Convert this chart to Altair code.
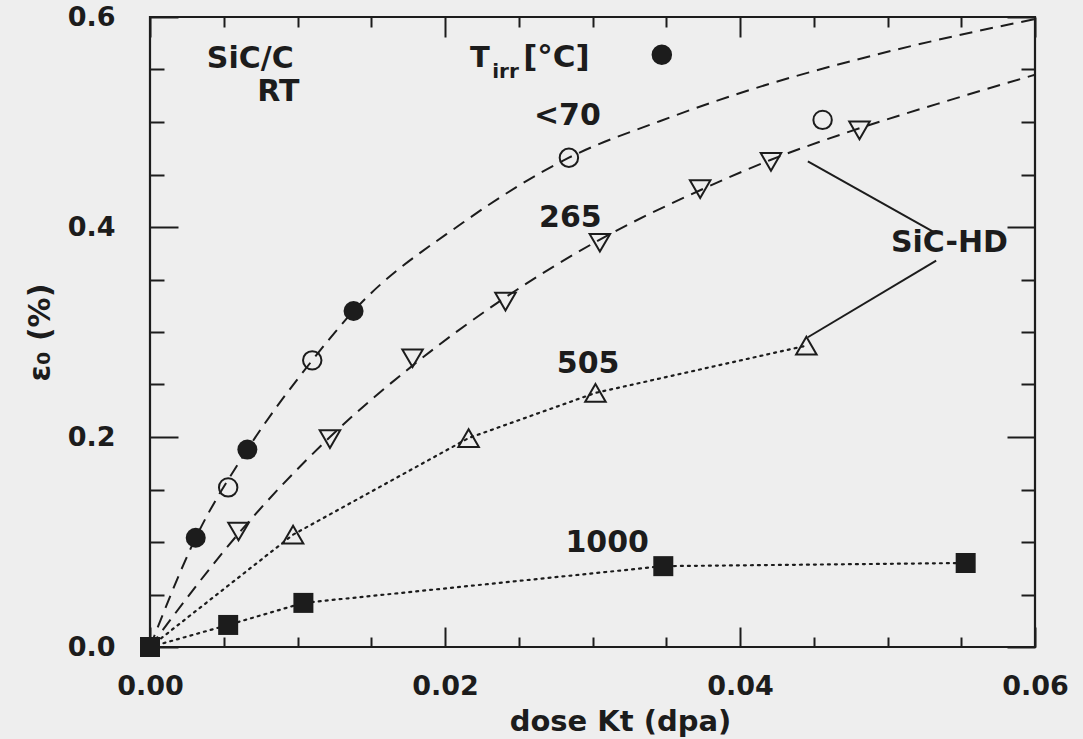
import altair as alt
import pandas as pd

INK = "#1c1c1c"
FONT = "DejaVu Sans"

# ---- measured points -------------------------------------------------------
# T_irr < 70 C, filled circles (SiC/C)
fc_x = [0.0, 0.0031, 0.0066, 0.0138]
fc_y = [0.0, 0.104, 0.188, 0.320]
# T_irr < 70 C, open circles (SiC-HD)
oc_x = [0.0053, 0.0110, 0.0284, 0.0456]
oc_y = [0.152, 0.273, 0.466, 0.502]
# T_irr = 265 C, down triangles
dt_x = [0.0060, 0.0122, 0.0178, 0.0241, 0.0305, 0.0373, 0.0421, 0.0481]
dt_y = [0.110, 0.198, 0.275, 0.329, 0.385, 0.436, 0.462, 0.492]
# T_irr = 505 C, up triangles
ut_x = [0.0, 0.0097, 0.0216, 0.0302, 0.0445]
ut_y = [0.0, 0.107, 0.199, 0.242, 0.287]
# T_irr = 1000 C, filled squares
sq_x = [0.0, 0.0053, 0.0104, 0.0348, 0.0553]
sq_y = [0.0, 0.021, 0.042, 0.077, 0.080]

# ---- fitted curves (dashed) ------------------------------------------------
fit70_x = [0.0, 0.0031, 0.0066, 0.0110, 0.0138, 0.0212, 0.0284, 0.0346, 0.0410, 0.0478, 0.0546, 0.0600]
fit70_y = [0.0, 0.104, 0.188, 0.273, 0.320, 0.404, 0.466, 0.501, 0.532, 0.559, 0.582, 0.598]
fit265_x = [0.0, 0.0060, 0.0122, 0.0178, 0.0241, 0.0305, 0.0373, 0.0421, 0.0481, 0.0545, 0.0600]
fit265_y = [0.0, 0.108, 0.200, 0.268, 0.333, 0.388, 0.435, 0.464, 0.494, 0.522, 0.545]

# ---- annotations -----------------------------------------------------------
ann_text = ["SiC/C", "RT", "<70", "265", "505", "1000", "SiC-HD"]
ann_x = [0.0068, 0.0087, 0.0283, 0.0285, 0.0297, 0.0310, 0.0542]
ann_y = [0.560, 0.529, 0.506, 0.409, 0.270, 0.099, 0.3845]

tirr_text = ["T", "irr", "[°C]"]
tirr_x = [0.0217, 0.0232, 0.02530]
tirr_y = [0.561, 0.548, 0.561]
tirr_size = [29, 20, 31]

key_x = [0.0347]
key_y = [0.564]

lead_x = [0.0446, 0.0446]
lead_y = [0.4625, 0.295]
lead_x2 = [0.0533, 0.0533]
lead_y2 = [0.394, 0.368]

# ---- axes ticks ------------------------------------------------------------
x_major = [0.0, 0.02, 0.04, 0.06]
x_minor = [0.005, 0.01, 0.015, 0.025, 0.03, 0.035, 0.045, 0.05, 0.055]
y_major = [0.0, 0.2, 0.4, 0.6]
y_minor = [0.05, 0.1, 0.15, 0.25, 0.3, 0.35, 0.45, 0.5, 0.55]

W, H = 885, 630

xs = alt.Scale(domain=[0, 0.06], nice=False, zero=False)
ys = alt.Scale(domain=[0, 0.6], nice=False, zero=False)


def df(**cols):
    return pd.DataFrame(cols)


def X(field="x", axis=None):
    return alt.X(f"{field}:Q", scale=xs, axis=axis)


def Y(field="y", axis=None):
    return alt.Y(f"{field}:Q", scale=ys, axis=axis)


layers = []

# dashed fits
for fx, fy in [(fit70_x, fit70_y), (fit265_x, fit265_y)]:
    layers.append(
        alt.Chart(df(x=fx, y=fy)).mark_line(
            color=INK, strokeWidth=2, strokeDash=[13, 8], interpolate="monotone"
        ).encode(x=X(), y=Y(), order="x:Q")
    )

# dotted connections
for px, py in [(ut_x, ut_y), (sq_x, sq_y)]:
    layers.append(
        alt.Chart(df(x=px, y=py)).mark_line(
            color=INK, strokeWidth=2.2, strokeDash=[2, 5], strokeCap="round"
        ).encode(x=X(), y=Y(), order="x:Q")
    )

# leader lines to the SiC-HD label
layers.append(
    alt.Chart(df(x=lead_x, y=lead_y, x2=lead_x2, y2=lead_y2)).mark_rule(
        color=INK, strokeWidth=2
    ).encode(x=X(), y=Y(), x2="x2:Q", y2="y2:Q")
)

# markers
layers.append(
    alt.Chart(df(x=fc_x, y=fc_y)).mark_point(
        shape="circle", filled=True, color=INK, size=400, opacity=1
    ).encode(x=X(), y=Y())
)
layers.append(
    alt.Chart(df(x=key_x, y=key_y)).mark_point(
        shape="circle", filled=True, color=INK, size=420, opacity=1
    ).encode(x=X(), y=Y())
)
layers.append(
    alt.Chart(df(x=oc_x, y=oc_y)).mark_point(
        shape="circle", filled=False, color=INK, size=340, strokeWidth=2, opacity=1
    ).encode(x=X(), y=Y())
)
layers.append(
    alt.Chart(df(x=dt_x, y=dt_y)).mark_point(
        shape="triangle-down", filled=False, color=INK, size=420, strokeWidth=2, opacity=1
    ).encode(x=X(), y=Y())
)
layers.append(
    alt.Chart(df(x=ut_x[1:], y=ut_y[1:])).mark_point(
        shape="triangle-up", filled=False, color=INK, size=420, strokeWidth=2, opacity=1
    ).encode(x=X(), y=Y())
)
layers.append(
    alt.Chart(df(x=sq_x, y=sq_y)).mark_point(
        shape="square", filled=True, color=INK, size=400, opacity=1
    ).encode(x=X(), y=Y())
)

# text labels
layers.append(
    alt.Chart(df(x=ann_x, y=ann_y, t=ann_text)).mark_text(
        font=FONT, fontWeight="bold", fontSize=30, color=INK, align="center", baseline="middle"
    ).encode(x=X(), y=Y(), text="t:N")
)
layers.append(
    alt.Chart(df(x=tirr_x, y=tirr_y, t=tirr_text, s=tirr_size)).mark_text(
        font=FONT, fontWeight="bold", color=INK, align="left", baseline="middle"
    ).encode(x=X(), y=Y(), text="t:N", size=alt.Size("s:Q", scale=None, legend=None))
)

# ---- axes: labels/titles, then inward ticks on all four sides ---------------
lab = dict(labelFont=FONT, labelFontWeight="bold", labelFontSize=27, labelColor=INK,
           labelFlush=False, grid=False, domain=False, ticks=False)
main_x = alt.Axis(orient="bottom", values=x_major, format=".2f", labelPadding=26,
                  title="dose Kt (dpa)", titleFont=FONT, titleFontWeight="bold",
                  titleFontSize=29, titleColor=INK, titleX=470, titleY=74,
                  titleBaseline="middle", **lab)
main_y = alt.Axis(orient="left", values=y_major, format=".1f", labelPadding=35,
                  title="ε₀ (%)", titleFont=FONT, titleFontWeight="bold",
                  titleFontSize=30, titleColor=INK, titleX=-110, titleY=H / 2,
                  titleAngle=-90, titleBaseline="middle", **lab)


def tick_axis(orient, values, size):
    return alt.Axis(orient=orient, values=values, labels=False, domain=False, grid=False,
                    ticks=True, tickSize=size, offset=-size, tickWidth=2,
                    tickColor=INK, title=None)


dummy = df(x=[0.0], y=[0.0])


def axis_layer(ax, ay):
    return alt.Chart(dummy).mark_point(opacity=0).encode(x=X(axis=ax), y=Y(axis=ay))


layers.append(axis_layer(main_x, main_y))
layers.append(axis_layer(tick_axis("bottom", x_major, 20), tick_axis("left", y_major, 28)))
layers.append(axis_layer(tick_axis("bottom", x_minor, 10), tick_axis("left", y_minor, 14)))
layers.append(axis_layer(tick_axis("top", x_major, 20), tick_axis("right", y_major, 28)))
layers.append(axis_layer(tick_axis("top", x_minor, 10), tick_axis("right", y_minor, 14)))

chart = (
    alt.layer(*layers)
    .resolve_axis(x="independent", y="independent")
    .properties(
        width=W, height=H, background="#eeeeee",
        padding={"left": 150, "top": 17, "right": 48, "bottom": 92},
        autosize=alt.AutoSizeParams(type="none"),
    )
    .configure_view(stroke=INK, strokeWidth=2.2)
)

chart.save("out.html", embed_options={"renderer": "svg", "actions": False})
